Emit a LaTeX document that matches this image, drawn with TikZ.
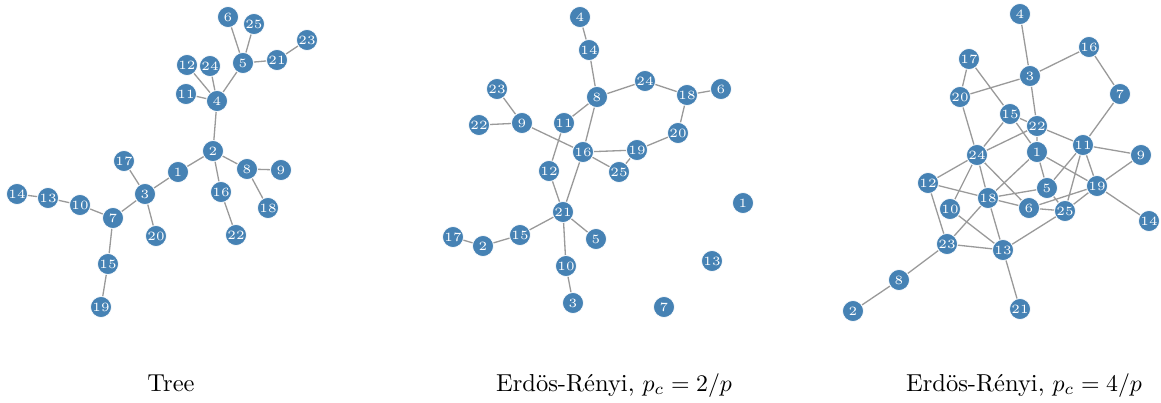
\documentclass[tikz,border=0pt]{standalone}
\usetikzlibrary{backgrounds}
\definecolor{cNode}{HTML}{4682B4}
\definecolor{cEdge}{HTML}{9A9A9A}

\begin{document}
\begin{tikzpicture}[x=0.42pt,y=-0.42pt,
    vtx/.style={circle,fill=cNode,draw=white,line width=0.3pt,minimum size=8.8pt,
                inner sep=0pt,text=white,font=\fontsize{5.3}{6}\selectfont},
    edge/.style={draw=cEdge,line width=0.55pt},
    caption/.style={anchor=base,font=\fontsize{10.3}{12}\selectfont}]
  \useasboundingbox (0,0) rectangle (1161,402);

  % tree
  \node[vtx] (t1) at (178,172) {1};
  \node[vtx] (t2) at (213,151) {2};
  \node[vtx] (t3) at (145,194) {3};
  \node[vtx] (t4) at (217,101) {4};
  \node[vtx] (t5) at (243,63) {5};
  \node[vtx] (t6) at (228,17) {6};
  \node[vtx] (t7) at (113,218) {7};
  \node[vtx] (t8) at (247,169) {8};
  \node[vtx] (t9) at (281,170) {9};
  \node[vtx] (t10) at (80,205) {10};
  \node[vtx] (t11) at (186,94) {11};
  \node[vtx] (t12) at (187,65) {12};
  \node[vtx] (t13) at (48,198) {13};
  \node[vtx] (t14) at (17,194) {14};
  \node[vtx] (t15) at (108,264) {15};
  \node[vtx] (t16) at (221,192) {16};
  \node[vtx] (t17) at (124,161) {17};
  \node[vtx] (t18) at (268,208) {18};
  \node[vtx] (t19) at (101,307) {19};
  \node[vtx] (t20) at (156,236) {20};
  \node[vtx] (t21) at (277,60) {21};
  \node[vtx] (t22) at (236,235) {22};
  \node[vtx] (t23) at (307,40) {23};
  \node[vtx] (t24) at (210,66) {24};
  \node[vtx] (t25) at (254,24) {25};

  % Erdos-Renyi, 2/p
  \node[vtx] (a1) at (743,203) {1};
  \node[vtx] (a2) at (483,246) {2};
  \node[vtx] (a3) at (573,303) {3};
  \node[vtx] (a4) at (580,17) {4};
  \node[vtx] (a5) at (596,239) {5};
  \node[vtx] (a6) at (721,89) {6};
  \node[vtx] (a7) at (664,307) {7};
  \node[vtx] (a8) at (597,97) {8};
  \node[vtx] (a9) at (522,123) {9};
  \node[vtx] (a10) at (566,266) {10};
  \node[vtx] (a11) at (564,123) {11};
  \node[vtx] (a12) at (549,171) {12};
  \node[vtx] (a13) at (712,261) {13};
  \node[vtx] (a14) at (589,50) {14};
  \node[vtx] (a15) at (520,235) {15};
  \node[vtx] (a16) at (583,152) {16};
  \node[vtx] (a17) at (453,237) {17};
  \node[vtx] (a18) at (687,95) {18};
  \node[vtx] (a19) at (637,150) {19};
  \node[vtx] (a20) at (678,133) {20};
  \node[vtx] (a21) at (563,212) {21};
  \node[vtx] (a22) at (479,125) {22};
  \node[vtx] (a23) at (497,89) {23};
  \node[vtx] (a24) at (645,81) {24};
  \node[vtx] (a25) at (619,172) {25};

  % Erdos-Renyi, 4/p
  \node[vtx] (b1) at (1037,152) {1};
  \node[vtx] (b2) at (853,311) {2};
  \node[vtx] (b3) at (1030,76) {3};
  \node[vtx] (b4) at (1020,14) {4};
  \node[vtx] (b5) at (1047,188) {5};
  \node[vtx] (b6) at (1029,208) {6};
  \node[vtx] (b7) at (1120,94) {7};
  \node[vtx] (b8) at (899,280) {8};
  \node[vtx] (b9) at (1141,155) {9};
  \node[vtx] (b10) at (950,209) {10};
  \node[vtx] (b11) at (1083,145) {11};
  \node[vtx] (b12) at (928,183) {12};
  \node[vtx] (b13) at (1003,250) {13};
  \node[vtx] (b14) at (1149,221) {14};
  \node[vtx] (b15) at (1010,114) {15};
  \node[vtx] (b16) at (1089,47) {16};
  \node[vtx] (b17) at (969,59) {17};
  \node[vtx] (b18) at (988,198) {18};
  \node[vtx] (b19) at (1097,186) {19};
  \node[vtx] (b20) at (960,97) {20};
  \node[vtx] (b21) at (1020,309) {21};
  \node[vtx] (b22) at (1037,126) {22};
  \node[vtx] (b23) at (947,244) {23};
  \node[vtx] (b24) at (977,155) {24};
  \node[vtx] (b25) at (1065,211) {25};

  \begin{pgfonlayer}{background}
    \draw[edge] (t6) -- (t5) (t25) -- (t5) (t5) -- (t21) (t21) -- (t23)
      (t5) -- (t4) (t12) -- (t4) (t24) -- (t4) (t11) -- (t4) (t4) -- (t2)
      (t2) -- (t1) (t2) -- (t8) (t2) -- (t16) (t8) -- (t9) (t8) -- (t18)
      (t16) -- (t22) (t1) -- (t3) (t17) -- (t3) (t3) -- (t20) (t3) -- (t7)
      (t7) -- (t10) (t10) -- (t13) (t13) -- (t14) (t7) -- (t15) (t15) -- (t19);
    \draw[edge] (a4) -- (a14) (a14) -- (a8) (a8) -- (a24) (a24) -- (a18)
      (a18) -- (a6) (a18) -- (a20) (a20) -- (a19) (a19) -- (a16) (a19) -- (a25)
      (a16) -- (a25) (a8) -- (a11) (a8) -- (a16) (a16) -- (a21) (a9) -- (a16)
      (a23) -- (a9) (a22) -- (a9) (a11) -- (a12) (a12) -- (a21) (a21) -- (a15)
      (a15) -- (a2) (a2) -- (a17) (a21) -- (a5) (a21) -- (a10) (a10) -- (a3);
    \draw[edge] (b4) -- (b3) (b3) -- (b16) (b16) -- (b7) (b3) -- (b20)
      (b3) -- (b22) (b17) -- (b20) (b17) -- (b15) (b20) -- (b24) (b15) -- (b24)
      (b15) -- (b22) (b15) -- (b1) (b22) -- (b24) (b22) -- (b1) (b22) -- (b11)
      (b11) -- (b7) (b11) -- (b9) (b11) -- (b19) (b11) -- (b5) (b11) -- (b25)
      (b1) -- (b18) (b1) -- (b5) (b5) -- (b25) (b1) -- (b19) (b9) -- (b19)
      (b19) -- (b14) (b19) -- (b25) (b19) -- (b6) (b5) -- (b18) (b6) -- (b18)
      (b6) -- (b25) (b24) -- (b6) (b24) -- (b18) (b24) -- (b12) (b24) -- (b10)
      (b12) -- (b18) (b12) -- (b23) (b10) -- (b13) (b18) -- (b23) (b18) -- (b13)
      (b23) -- (b13) (b23) -- (b8) (b8) -- (b2) (b13) -- (b21) (b13) -- (b25);
  \end{pgfonlayer}

  \node[caption] (capT) at (171,391) {Tree};
  \node[caption] (capA) at (614,391) {Erd\"os-R\'enyi, $p_c = 2/p$};
  \node[caption] (capB) at (1024,391) {Erd\"os-R\'enyi, $p_c = 4/p$};
\end{tikzpicture}
\end{document}
